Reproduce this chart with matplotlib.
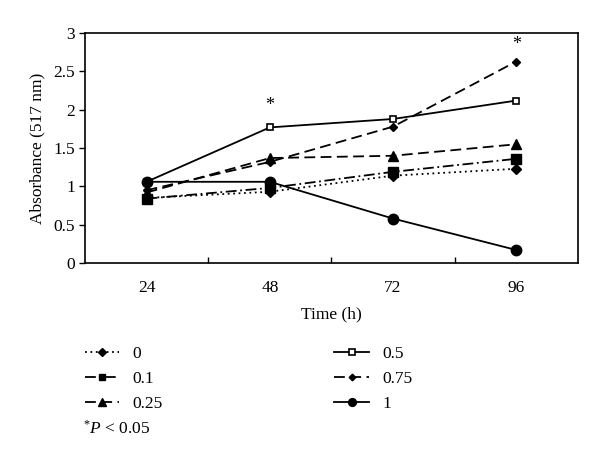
import matplotlib
matplotlib.use("Agg")
import matplotlib.pyplot as plt

plt.rcParams['font.family'] = ['Liberation Serif', 'DejaVu Serif']
plt.rcParams['mathtext.fontset'] = 'custom'
plt.rcParams['mathtext.rm'] = 'Liberation Serif'
plt.rcParams['mathtext.it'] = 'Liberation Serif:italic'

times = ["24", "48", "72", "96"]
labels = ["0", "0.1", "0.25", "0.5", "0.75", "1"]
s0 = [0.85, 0.93, 1.14, 1.23]
s01 = [0.84, 0.98, 1.19, 1.36]
s025 = [0.92, 1.37, 1.40, 1.55]
s05 = [1.06, 1.77, 1.88, 2.12]
s075 = [0.95, 1.32, 1.78, 2.63]
s1 = [1.06, 1.06, 0.58, 0.17]
star_x = [1, 3]
star_y = [2.05, 2.85]

series = [s0, s01, s025, s05, s075, s1]
styles = [
    dict(ls=(0, (1, 2)), marker='D', ms=5.5, mfc='black'),
    dict(ls=(0, (6, 2, 1, 2)), marker='s', ms=6.5, mfc='black'),
    dict(ls=(0, (6, 3)), marker='^', ms=7, mfc='black'),
    dict(ls='-', marker='s', ms=5, mfc='white', mew=1.2),
    dict(ls=(0, (6, 3)), marker='D', ms=4.5, mfc='black'),
    dict(ls='-', marker='o', ms=7.5, mfc='black'),
]

fig = plt.figure(figsize=(6, 4.63), dpi=100)
ax = fig.add_axes([0.1417, 0.432, 0.8213, 0.4963])
x = list(range(len(times)))
handles = []
for vals, st, lab in zip(series, styles, labels):
    h, = ax.plot(x, vals, color='black', lw=1.3, mec='black', label=lab, **st)
    handles.append(h)

for sx, sy in zip(star_x, star_y):
    ax.text(sx, sy, "*", ha='center', va='center', fontsize=13)

ax.set_xlim(-0.5, 3.5)
ax.set_ylim(0, 3)
ax.set_yticks([0, 0.5, 1, 1.5, 2, 2.5, 3])
ax.set_yticklabels(["0", "0.5", "1", "1.5", "2", "2.5", "3"])
ax.set_xticks([0.5, 1.5, 2.5])
ax.set_xticklabels([])
ax.set_xticks(x, minor=True)
ax.set_xticklabels(times, minor=True)
ax.tick_params(axis='x', which='major', direction='in', length=4, width=1)
ax.tick_params(axis='x', which='minor', length=0, pad=12, labelsize=12.5)
ax.tick_params(axis='y', direction='out', length=4, width=1, labelsize=12.5, pad=3)
for sp in ax.spines.values():
    sp.set_linewidth(1.2)
ax.set_xlabel("Time (h)", fontsize=12.5, labelpad=8)
ax.set_ylabel("Absorbance (517 nm)", fontsize=12.5, labelpad=6)

fig.legend(handles=handles, ncol=2, loc='upper left', bbox_to_anchor=(0.141, 0.253),
           frameon=False, fontsize=12.5, handlelength=2.0, handletextpad=0.75,
           columnspacing=9.9, labelspacing=0.52, borderaxespad=0, borderpad=0,
           markerscale=0.75)

fig.text(0.139, 0.075, r"$^{*}\mathit{P}$ < 0.05", fontsize=12.5, va='center', ha='left')

fig.savefig("out.png", dpi=100)
